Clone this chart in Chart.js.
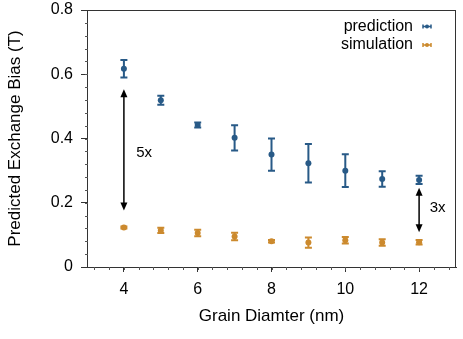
<!DOCTYPE html>
<html lang="en">
<head>
    <meta charset="UTF-8">
    <title>Predicted Exchange Bias</title>
    <script src="https://cdn.jsdelivr.net/npm/chart.js"></script>
    <style>
        html, body { margin: 0; padding: 0; background: #fff; }
        #wrap { width: 463px; height: 339px; }
    </style>
</head>
<body>
    <div id="wrap"><canvas id="biasChart" width="463" height="339"></canvas></div>

    <script>
        // dados
        const diameters = [4, 5, 6, 7, 8, 9, 10, 11, 12];
        const predMean = [0.617, 0.519, 0.442, 0.402, 0.350, 0.323, 0.300, 0.274, 0.271];
        const predErr  = [0.027, 0.014, 0.008, 0.039, 0.050, 0.060, 0.051, 0.024, 0.013];
        const simMean  = [0.123, 0.114, 0.106, 0.095, 0.080, 0.076, 0.083, 0.076, 0.077];
        const simErr   = [0.003, 0.008, 0.010, 0.012, 0.004, 0.016, 0.010, 0.010, 0.007];
        const xTicks = [4, 6, 8, 10, 12];
        const yTicks = [0, 0.2, 0.4, 0.6, 0.8];
        // anotações: [x, yDe, yAte, texto, xTexto, yTexto]
        const arrows = [
            [4, 0.553, 0.176, '5x', 4.55, 0.355],
            [12, 0.247, 0.108, '3x', 12.5, 0.184]
        ];

        const BLUE = '#285a87';
        const ORANGE = '#cc8a2e';
        const FONT = '"Liberation Sans", Arial, sans-serif';

        function toPoints(ys, errs) {
            return diameters.map((d, i) => ({ x: d, y: ys[i], e: errs[i] }));
        }

        // barras de erro, setas e legenda
        const extras = {
            id: 'extras',
            beforeDatasetsDraw(chart) {
                const ctx = chart.ctx;
                const xs = chart.scales.x, ys = chart.scales.y;
                ctx.save();
                chart.data.datasets.forEach(ds => {
                    ctx.strokeStyle = ds.borderColor;
                    ctx.lineWidth = 2;
                    ds.data.forEach(p => {
                        const px = xs.getPixelForValue(p.x);
                        const top = ys.getPixelForValue(p.y + p.e);
                        const bot = ys.getPixelForValue(p.y - p.e);
                        ctx.beginPath();
                        ctx.moveTo(px, top); ctx.lineTo(px, bot);
                        ctx.moveTo(px - 3.5, top); ctx.lineTo(px + 3.5, top);
                        ctx.moveTo(px - 3.5, bot); ctx.lineTo(px + 3.5, bot);
                        ctx.stroke();
                    });
                });
                ctx.restore();
            },
            afterDraw(chart) {
                const ctx = chart.ctx;
                const xs = chart.scales.x, ys = chart.scales.y;
                const a = chart.chartArea;
                ctx.save();

                // moldura
                ctx.strokeStyle = '#333';
                ctx.lineWidth = 1;
                ctx.strokeRect(a.left + 0.5, a.top + 0.5, a.right - a.left - 1, a.bottom - a.top);

                // ticks menores
                ctx.strokeStyle = '#555';
                for (let v = 3.2; v < 13; v += 0.4) {
                    const px = Math.round(xs.getPixelForValue(v)) + 0.5;
                    ctx.beginPath();
                    ctx.moveTo(px, a.bottom); ctx.lineTo(px, a.bottom + 3);
                    ctx.stroke();
                }
                for (let v = 0.04; v < 0.8; v += 0.04) {
                    const py = Math.round(ys.getPixelForValue(v)) + 0.5;
                    ctx.beginPath();
                    ctx.moveTo(a.left - 2, py); ctx.lineTo(a.left + 1, py);
                    ctx.stroke();
                }

                // setas
                ctx.strokeStyle = '#000';
                ctx.fillStyle = '#000';
                ctx.lineWidth = 1.5;
                arrows.forEach(ar => {
                    const px = xs.getPixelForValue(ar[0]);
                    const y1 = ys.getPixelForValue(ar[1]);
                    const y2 = ys.getPixelForValue(ar[2]);
                    ctx.beginPath();
                    ctx.moveTo(px, y1 + 6); ctx.lineTo(px, y2 - 6);
                    ctx.stroke();
                    ctx.beginPath();
                    ctx.moveTo(px, y1); ctx.lineTo(px - 3.5, y1 + 8); ctx.lineTo(px + 3.5, y1 + 8);
                    ctx.closePath(); ctx.fill();
                    ctx.beginPath();
                    ctx.moveTo(px, y2); ctx.lineTo(px - 3.5, y2 - 8); ctx.lineTo(px + 3.5, y2 - 8);
                    ctx.closePath(); ctx.fill();
                    ctx.font = '15px ' + FONT;
                    ctx.textAlign = 'center';
                    ctx.textBaseline = 'middle';
                    ctx.fillText(ar[3], xs.getPixelForValue(ar[4]), ys.getPixelForValue(ar[5]));
                });

                // legenda
                ctx.font = '16px ' + FONT;
                ctx.textAlign = 'right';
                ctx.textBaseline = 'middle';
                chart.data.datasets.forEach((ds, i) => {
                    const ty = a.top + 16.5 + i * 18.5;
                    ctx.fillStyle = '#000';
                    ctx.fillText(ds.label, a.right - 43, ty);
                    const sx = a.right - 33;
                    ctx.strokeStyle = ds.borderColor;
                    ctx.fillStyle = ds.borderColor;
                    ctx.lineWidth = 1.5;
                    ctx.beginPath();
                    ctx.moveTo(sx, ty); ctx.lineTo(sx + 8, ty);
                    ctx.moveTo(sx, ty - 2); ctx.lineTo(sx, ty + 2);
                    ctx.moveTo(sx + 8, ty - 2); ctx.lineTo(sx + 8, ty + 2);
                    ctx.stroke();
                    ctx.beginPath();
                    ctx.arc(sx + 4, ty, 2, 0, Math.PI * 2);
                    ctx.fill();
                });
                ctx.restore();
            }
        };

        const ctx = document.getElementById('biasChart').getContext('2d');
        const biasChart = new Chart(ctx, {
            type: 'scatter',
            data: {
                datasets: [{
                    label: 'prediction',
                    data: toPoints(predMean, predErr),
                    borderColor: BLUE,
                    backgroundColor: BLUE,
                    pointRadius: 3,
                    pointBorderWidth: 0
                }, {
                    label: 'simulation',
                    data: toPoints(simMean, simErr),
                    borderColor: ORANGE,
                    backgroundColor: ORANGE,
                    pointRadius: 3,
                    pointBorderWidth: 0
                }]
            },
            options: {
                responsive: false,
                animation: false,
                layout: { padding: { top: 10, right: 7, left: 0, bottom: 0 } },
                plugins: { legend: { display: false }, tooltip: { enabled: false } },
                scales: {
                    x: {
                        min: 3, max: 13,
                        afterBuildTicks: s => { s.ticks = xTicks.map(v => ({ value: v })); },
                        afterFit: s => { s.height = 72; },
                        grid: { drawOnChartArea: false, tickLength: 5, color: '#333' },
                        border: { color: '#333' },
                        ticks: { color: '#000', font: { family: FONT, size: 16 }, padding: 8 },
                        title: {
                            display: true, text: 'Grain Diamter (nm)', color: '#000',
                            font: { family: FONT, size: 17 }, padding: { top: 4, bottom: 12 }
                        }
                    },
                    y: {
                        min: 0, max: 0.8,
                        afterBuildTicks: s => { s.ticks = yTicks.map(v => ({ value: v })); },
                        afterFit: s => { s.width = 87; s.paddingTop = 0; },
                        grid: { drawOnChartArea: false, tickLength: 6, color: '#333' },
                        border: { color: '#333' },
                        ticks: {
                            color: '#000', font: { family: FONT, size: 16, lineHeight: 0.6 }, padding: 8,
                            callback: v => (v === 0 ? '0' : v.toFixed(1))
                        },
                        title: {
                            display: true, text: 'Predicted Exchange Bias (T)', color: '#000',
                            font: { family: FONT, size: 17 }, padding: { top: 5, bottom: 4 }
                        }
                    }
                }
            },
            plugins: [extras]
        });
    </script>
</body>
</html>
